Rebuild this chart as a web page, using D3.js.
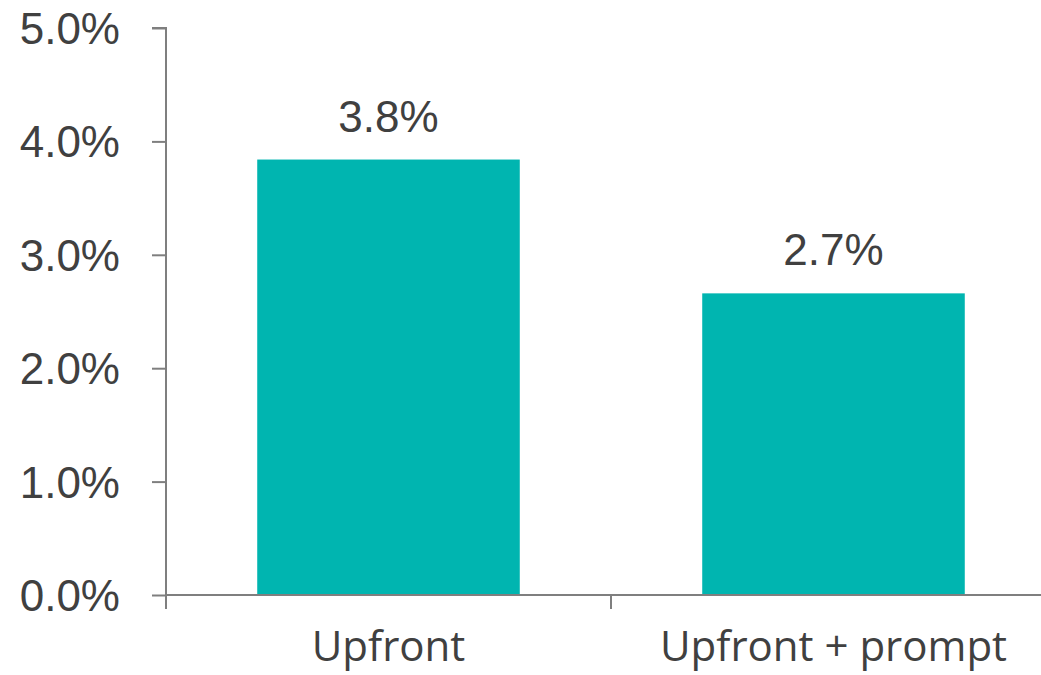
<!DOCTYPE html>
<html>
<head>
<meta charset="utf-8">
<script src="https://cdn.jsdelivr.net/npm/d3@7"></script>
<style>
  html, body { margin: 0; padding: 0; background: #fff; }
  svg { display: block; }
</style>
</head>
<body>
<svg id="chart" width="1041" height="675"></svg>
<script>
const categories = ["Upfront", "Upfront + prompt"];
const values = [3.84, 2.66];
const valueLabels = ["3.8%", "2.7%"];
const yTicks = [0, 1, 2, 3, 4, 5];

const svg = d3.select("#chart");
const axisColor = "#7f7f7f";
const textColor = "#404040";
const barColor = "#00b5b0";
const numFont = "'Liberation Sans', Arial, sans-serif";
const catFont = "'Open Sans', sans-serif";

const x = d3.scaleBand().domain(categories).range([166, 1056]).padding(0);
const y = d3.scaleLinear().domain([0, 5]).range([595, 28]);
const barW = x.bandwidth() * 0.59;

// bars
svg.append("g").selectAll("rect").data(values).join("rect")
  .attr("x", (d, i) => x(categories[i]) + (x.bandwidth() - barW) / 2)
  .attr("y", d => y(d))
  .attr("width", barW)
  .attr("height", d => y(0) - y(d))
  .attr("fill", barColor);

// y axis
const yAxis = svg.append("g")
  .attr("transform", `translate(${x.range()[0]},0)`)
  .call(d3.axisLeft(y).tickValues(yTicks).tickSize(14).tickPadding(0)
    .tickFormat(d => d3.format(".1f")(d) + "%"));
yAxis.select(".domain").attr("stroke", axisColor).attr("stroke-width", 2)
  .attr("d", `M-14,${y(5)}H0V${y(0)}`);
yAxis.selectAll(".tick line").attr("stroke", axisColor).attr("stroke-width", 2);
yAxis.selectAll(".tick text")
  .attr("x", -46).attr("dy", "0.35em")
  .attr("fill", textColor)
  .style("font-family", numFont)
  .style("font-size", "44px");

// x axis
const xAxis = svg.append("g")
  .attr("transform", `translate(0,${y(0)})`)
  .call(d3.axisBottom(x).tickSize(0).tickPadding(0));
xAxis.select(".domain").attr("stroke", axisColor).attr("stroke-width", 2)
  .attr("d", `M${x.range()[0]},0H${x.range()[1]}`);
xAxis.selectAll(".tick line").remove();
// boundary ticks between categories
const bounds = [x.range()[0], x(categories[1]), x.range()[1]];
xAxis.selectAll("line.bound").data(bounds).join("line")
  .attr("class", "bound")
  .attr("x1", d => d).attr("x2", d => d)
  .attr("y1", 0).attr("y2", 14)
  .attr("stroke", axisColor).attr("stroke-width", 2);
xAxis.selectAll(".tick text")
  .attr("y", 66).attr("dy", null)
  .attr("fill", textColor)
  .style("font-family", catFont)
  .style("font-size", "42px");

// value labels
svg.append("g").selectAll("text").data(values).join("text")
  .attr("x", (d, i) => x(categories[i]) + x.bandwidth() / 2)
  .attr("y", d => y(d) - 28)
  .attr("text-anchor", "middle")
  .attr("fill", textColor)
  .style("font-family", numFont)
  .style("font-size", "44px")
  .text((d, i) => valueLabels[i]);
</script>
</body>
</html>
